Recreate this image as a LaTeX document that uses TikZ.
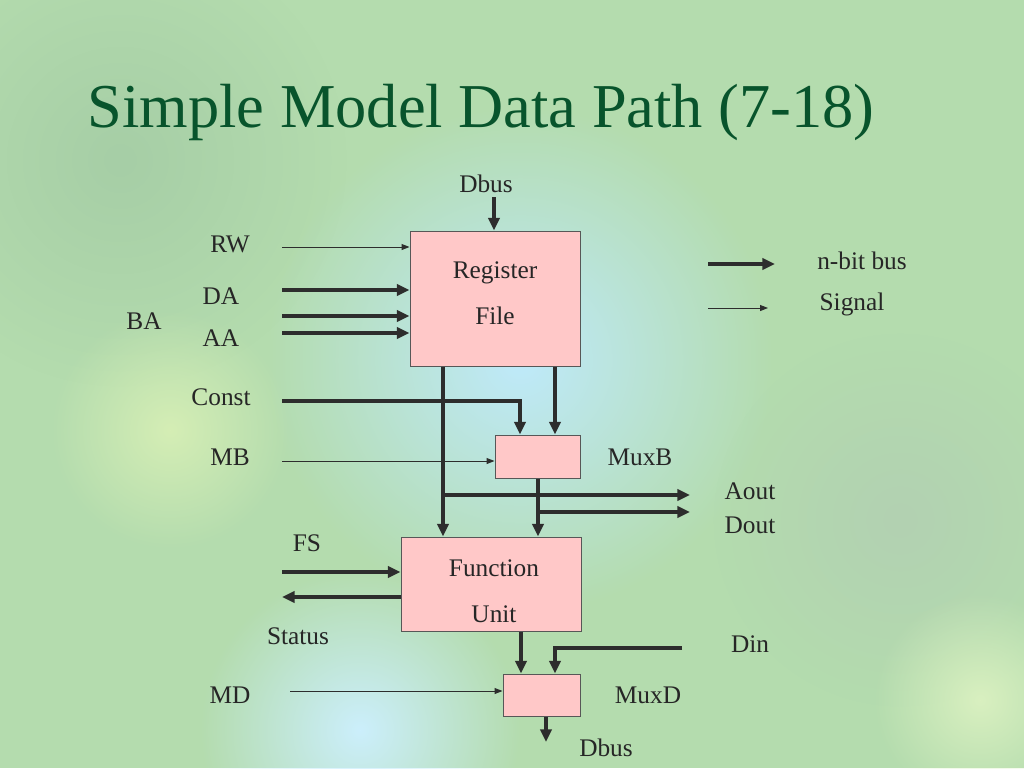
\documentclass[tikz,border=0pt]{standalone}
\usepackage{fontspec}
\setmainfont{Liberation Serif}
\usetikzlibrary{arrows.meta, positioning, fadings}

\definecolor{bggreen}{RGB}{180,220,174}
\definecolor{titlegreen}{RGB}{8,84,44}
\definecolor{boxpink}{RGB}{255,200,200}
\definecolor{wire}{RGB}{45,45,45}
\newcommand{\dpfont}{\fontsize{19}{23}\selectfont}
\tikzfading[name=blobfade, inner color=transparent!0, outer color=transparent!100]

\begin{document}
\begin{tikzpicture}[x=0.75pt, y=-0.75pt,
  bus/.style={line width=3pt, draw=wire, -{Triangle[length=9.5pt,width=8.5pt]}},
  sig/.style={line width=0.75pt, draw=wire, -{Triangle[length=6pt,width=4.5pt]}},
  blk/.style={draw=wire!80, fill=boxpink, line width=0.75pt, inner sep=0pt},
  blktext/.style={font=\dpfont, align=center, text=black!85},
  lbl/.style={font=\dpfont, text=black!85}]
\useasboundingbox (0,0) rectangle (1024,768);

% Background
\fill[bggreen] (0,0) rectangle (1024,768);
\begin{scope}
\clip (0,0) rectangle (1024,768);
\fill[green!45!black!35!white, path fading=blobfade] (120,160) circle (170pt);
\fill[cyan!25!white, path fading=blobfade] (520,360) circle (190pt);
\fill[yellow!45!green!30!white, path fading=blobfade] (170,430) circle (90pt);
\fill[green!40!black!30!white, path fading=blobfade] (900,520) circle (140pt);
\fill[cyan!20!white, path fading=blobfade] (360,730) circle (120pt);
\fill[yellow!40!green!25!white, path fading=blobfade] (980,700) circle (80pt);
\end{scope}

% Title
\node[font=\fontsize{46.8}{50}\selectfont, text=titlegreen, anchor=base west] (title) at (83,127) {Simple Model Data Path (7-18)};

% Blocks
\node[blk, minimum width=127.5pt, minimum height=101.25pt,
  label={[blktext, yshift=3.75pt]center:Register\\[11.5pt]File}] (regfile) at (495,298.5) {};
\node[blk, minimum width=63.75pt, minimum height=32.25pt] (muxb) at (537.5,456.5) {};
\node[blk, minimum width=135pt, minimum height=70.5pt,
  label={[blktext, xshift=2.25pt, yshift=-5.25pt]center:Function\\[11.5pt]Unit}] (fu) at (491,584) {};
\node[blk, minimum width=57.75pt, minimum height=31.5pt] (muxd) at (541.5,695) {};

% Labels
\node[lbl] (dbusin) at (486,184) {Dbus};
\node[lbl] (rw) at (230,244) {RW};
\node[lbl] (da) at (221,296) {DA};
\node[lbl] (ba) at (144,321) {BA};
\node[lbl] (aa) at (221,338) {AA};
\node[lbl] (const) at (221,397) {Const};
\node[lbl] (mb) at (230,457) {MB};
\node[lbl] (muxblbl) at (640,457) {MuxB};
\node[lbl] (aout) at (750,491) {Aout};
\node[lbl] (dout) at (750,525) {Dout};
\node[lbl] (fs) at (307,543) {FS};
\node[lbl] (status) at (298,636) {Status};
\node[lbl] (din) at (750,644) {Din};
\node[lbl] (md) at (230,695) {MD};
\node[lbl] (muxdlbl) at (648,695) {MuxD};
\node[lbl] (dbusout) at (606,748) {Dbus};
\node[lbl] (nbit) at (862,261) {n-bit bus};
\node[lbl] (signal) at (852,304) {Signal};

% Free ends
\coordinate (dbustop) at (494,197);
\coordinate (rwS) at (282,247);
\coordinate (daS) at (282,290);
\coordinate (baS) at (282,316);
\coordinate (aaS) at (282,333);
\coordinate (constS) at (282,401);
\coordinate (cin) at (520,401);
\coordinate (mbS) at (282,461);
\coordinate (abus) at (443,367);
\coordinate (bbus) at (555,367);
\coordinate (bout) at (538,478);
\coordinate (aoutE) at (690,495);
\coordinate (doutE) at (690,512);
\coordinate (fsS) at (282,572);
\coordinate (statusE) at (282,597);
\coordinate (fout) at (521,631);
\coordinate (dinS) at (682,648);
\coordinate (dX) at (555,648);
\coordinate (mdS) at (290,691);
\coordinate (dbusE) at (546,742);
\coordinate (legbus) at (708,264);
\coordinate (legbusE) at (775,264);
\coordinate (legsig) at (708,308);
\coordinate (legsigE) at (768,308);

% Register file inputs
\draw[bus] (dbustop) -- (dbustop |- regfile.north);
\draw[sig] (rwS) -- (rwS -| regfile.west);
\draw[bus] (daS) -- (daS -| regfile.west);
\draw[bus] (baS) -- (baS -| regfile.west);
\draw[bus] (aaS) -- (aaS -| regfile.west);

% Register file outputs and MuxB
\draw[bus] (abus |- regfile.south) -- (abus |- fu.north);
\draw[bus] (bbus |- regfile.south) -- (bbus |- muxb.north);
\draw[bus] (constS) -| (cin |- muxb.north);
\draw[sig] (mbS) -- (mbS -| muxb.west);
\draw[bus] (bout |- muxb.south) -- (bout |- fu.north);
\draw[bus] (abus |- aoutE) -- (aoutE);
\draw[bus] (bout |- doutE) -- (doutE);

% Function unit and MuxD
\draw[bus] (fsS) -- (fsS -| fu.west);
\draw[bus] (statusE -| fu.west) -- (statusE);
\draw[bus] (fout |- fu.south) -- (fout |- muxd.north);
\draw[bus] (dinS) -| (dX |- muxd.north);
\draw[sig] (mdS) -- (mdS -| muxd.west);
\draw[bus] (dbusE |- muxd.south) -- (dbusE);

% Legend
\draw[bus] (legbus) -- (legbusE);
\draw[sig] (legsig) -- (legsigE);
\end{tikzpicture}
\end{document}
